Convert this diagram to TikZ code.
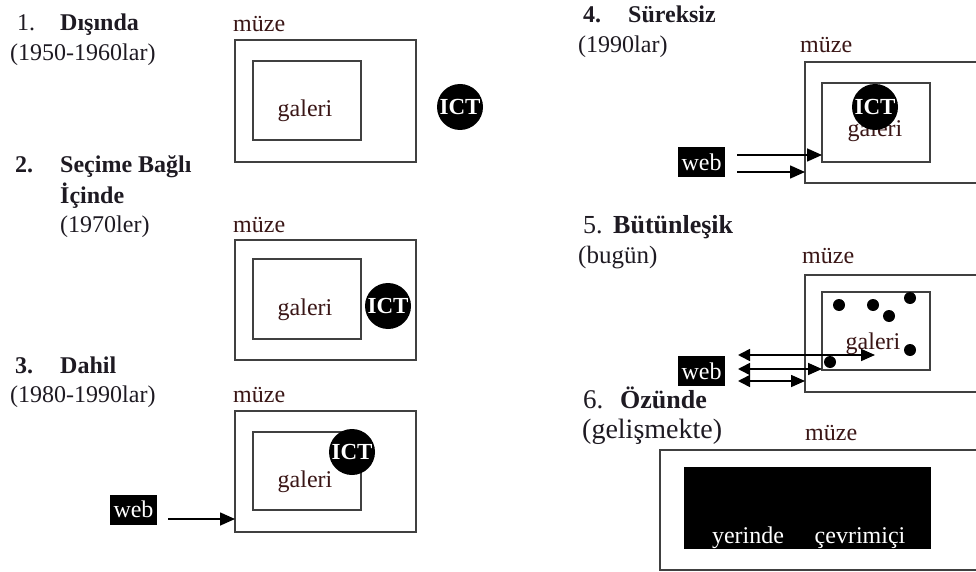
\documentclass[tikz,border=0pt]{standalone}
\usepackage{fontspec}
\setmainfont{Liberation Serif}
\usetikzlibrary{arrows.meta}
\definecolor{ink}{HTML}{1E1A22}
\definecolor{muz}{HTML}{3A1616}
\definecolor{edge}{HTML}{404040}
\begin{document}
\begin{tikzpicture}[x=1pt,y=-1pt,
  box/.style={draw=edge, line width=1.6pt, inner sep=0pt, outer sep=0pt, anchor=north west},
  txt/.style={inner sep=0pt, anchor=base west, text=ink, font=\fontsize{24}{28}\selectfont},
  bt/.style={txt, font=\fontsize{24}{28}\selectfont\bfseries},
  mz/.style={txt, text=muz},
  gal/.style={inner sep=0pt, anchor=base, text=muz, font=\fontsize{24}{28}\selectfont},
  ictc/.style={circle, fill=black, minimum size=46pt, inner sep=0pt},
  ictt/.style={inner sep=0pt, text=white, font=\fontsize{23}{28}\selectfont\bfseries},
  webbox/.style={fill=black, text=white, minimum width=47pt, minimum height=30pt, inner sep=0pt, font=\fontsize{24}{28}\selectfont},
  arr/.style={draw=black, line width=1.6pt, -{Triangle[length=15pt,width=13pt]}},
  darr/.style={draw=black, line width=1.6pt, {Triangle[length=12pt,width=12pt]}-{Triangle[length=14pt,width=12pt]}},
  dotn/.style={circle, fill=black, minimum size=12pt, inner sep=0pt}]
\clip (0,0) rectangle (976,572);
\fill[white] (0,0) rectangle (976,572);

% ---------- Section 1 ----------
\node[txt] (n1) at (17,31) {1.};
\node[bt] (t1) at (60,31) {Dışında};
\node[txt] (d1) at (10,61) {(1950-1960lar)};
\node[mz] (z1) at (233,32) {müze};
\node[box, minimum width=181pt, minimum height=122pt] (m1) at (235,40) {};
\node[box, minimum width=108pt, minimum height=79pt] (g1) at (253,61) {};
\node[gal] (gt1) at (305,117) {galeri};
\node[ictc] (i1) at (460,107) {};
\node[ictt] (it1) at (i1) {ICT};

% ---------- Section 2 ----------
\node[bt] (n2) at (15,173) {2.};
\node[bt] (t2) at (60,173) {Seçime Bağlı};
\node[bt] (t2b) at (60,203) {İçinde};
\node[txt] (d2) at (60,232) {(1970ler)};
\node[mz] (z2) at (233,232) {müze};
\node[box, minimum width=181pt, minimum height=120pt] (m2) at (235,240) {};
\node[box, minimum width=108pt, minimum height=80pt] (g2) at (253,259) {};
\node[gal] (gt2) at (305,315) {galeri};
\node[ictc] (i2) at (388,306) {};
\node[ictt] (it2) at (i2) {ICT};

% ---------- Section 3 ----------
\node[bt] (n3) at (15,373) {3.};
\node[bt] (t3) at (60,373) {Dahil};
\node[txt] (d3) at (10,402) {(1980-1990lar)};
\node[mz] (z3) at (233,402) {müze};
\node[box, minimum width=181pt, minimum height=121pt] (m3) at (235,411) {};
\node[box, minimum width=108pt, minimum height=78pt] (g3) at (253,432) {};
\node[gal] (gt3) at (305,487) {galeri};
\node[ictc] (i3) at (352,452) {};
\node[ictt] (it3) at (i3) {ICT};
\node[webbox] (w3) at (133.5,509.5) {web};
\coordinate (a3) at (168,519);
\draw[arr] (a3) -- (a3 -| m3.west);

% ---------- Section 4 ----------
\node[bt] (n4) at (583,23) {4.};
\node[bt] (t4) at (628,23) {Süreksiz};
\node[txt] (d4) at (578,53) {(1990lar)};
\node[mz] (z4) at (800,53) {müze};
\node[box, minimum width=181pt, minimum height=121pt] (m4) at (805,62) {};
\node[box, minimum width=108pt, minimum height=79pt] (g4) at (822,83) {};
\node[gal] (gt4) at (875,137) {galeri};
\node[ictc] (i4) at (875,107) {};
\node[ictt] (it4) at (i4) {ICT};
\node[webbox] (w4) at (701.5,162) {web};
\coordinate (a4) at (737,155);
\coordinate (b4) at (737,172);
\draw[arr] (a4) -- (a4 -| g4.west);
\draw[arr] (b4) -- (b4 -| m4.west);

% ---------- Section 5 ----------
\node[txt, font=\fontsize{26}{30}\selectfont] (n5) at (583,233) {5.};
\node[bt, font=\fontsize{26}{30}\selectfont\bfseries] (t5) at (613,233) {Bütünleşik};
\node[txt, font=\fontsize{25}{30}\selectfont] (d5) at (578,263) {(bugün)};
\node[mz] (z5) at (802,263) {müze};
\node[box, minimum width=181pt, minimum height=117pt] (m5) at (805,275) {};
\node[box, minimum width=108pt, minimum height=78pt] (g5) at (822,292) {};
\node[gal] (gt5) at (873,349) {galeri};
\node[dotn] (p1) at (839,305) {};
\node[dotn] (p2) at (873,305) {};
\node[dotn] (p3) at (889,316) {};
\node[dotn] (p4) at (910,298) {};
\node[dotn] (p5) at (910,350) {};
\node[dotn] (p6) at (830,362) {};
\node[webbox] (w5) at (701.5,371) {web};
\coordinate (a5) at (738,355);
\coordinate (e5) at (875,355);
\coordinate (b5) at (738,369);
\coordinate (c5) at (738,381);
\draw[darr] (a5) -- (e5);
\draw[darr] (b5) -- (b5 -| g5.west);
\draw[darr] (c5) -- (c5 -| m5.west);

% ---------- Section 6 ----------
\node[txt, font=\fontsize{27}{30}\selectfont] (n6) at (583,408) {6.};
\node[bt, font=\fontsize{26}{30}\selectfont\bfseries] (t6) at (620,408) {Özünde};
\node[txt, font=\fontsize{28}{32}\selectfont] (d6) at (582,438) {(gelişmekte)};
\node[mz] (z6) at (805,440) {müze};
\node[box, minimum width=340pt, minimum height=120pt] (m6) at (660,450) {};
\node[box, draw=black, fill=black, minimum width=245pt, minimum height=80pt] (bk6) at (685,468) {};
\node[gal, text=white] (y6) at (748,543) {yerinde};
\node[gal, text=white] (c6) at (860,543) {çevrimiçi};
\end{tikzpicture}
\end{document}
